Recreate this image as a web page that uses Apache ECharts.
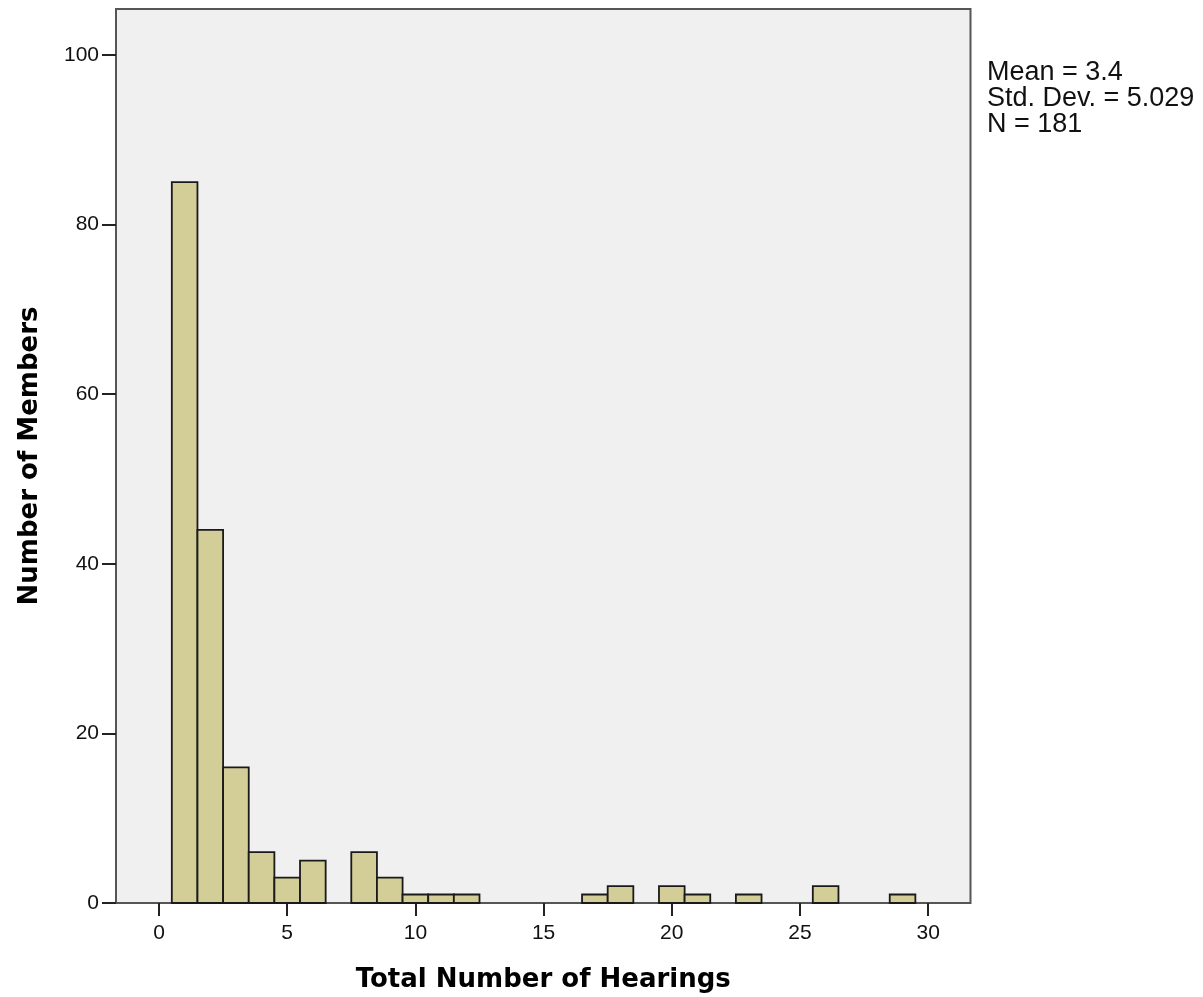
<!DOCTYPE html>
<html>
<head>
<meta charset="utf-8">
<script src="https://cdn.jsdelivr.net/npm/echarts@6/dist/echarts.min.js"></script>
<style>
html,body{margin:0;padding:0;background:#fff;}
#chart{width:1203px;height:997px;}
</style>
</head>
<body>
<div id="chart"></div>
<script>
// ---- data ----
const binCenters = [1,2,3,4,5,6,7,8,9,10,11,12,13,14,15,16,17,18,19,20,21,22,23,24,25,26,27,28,29];
const counts     = [85,44,16,6,3,5,0,6,3,1,1,1,0,0,0,0,1,2,0,2,1,0,1,0,0,2,0,0,1];
const binWidth = 1;
const xTicks = [0,5,10,15,20,25,30];
const yTicks = [0,20,40,60,80,100];
const statLines = ['Mean = 3.4', 'Std. Dev. = 5.029', 'N = 181'];
const xTitle = 'Total Number of Hearings';
const yTitle = 'Number of Members';

const barData = binCenters.map((c, i) => [c, counts[i]]).filter(d => d[1] > 0);

const chart = echarts.init(document.getElementById('chart'), null, {renderer: 'canvas'});

const labelFont = {fontFamily: 'Liberation Sans, Arial, sans-serif', fontSize: 21, color: '#111'};
const titleFont = {fontFamily: 'DejaVu Sans, sans-serif', fontWeight: 'bold', fontSize: 26, color: '#000'};

const option = {
  animation: false,
  backgroundColor: '#ffffff',
  grid: [
    {left: 116, top: 9, width: 854.5, height: 894, show: true, outerBoundsMode: 'none', containLabel: false,
     backgroundColor: '#f0f0f0', borderColor: '#555', borderWidth: 2},
    {left: 159, top: 55, width: 769.2, height: 848, show: false, outerBoundsMode: 'none', containLabel: false}
  ],
  xAxis: [
    {gridIndex: 0, type: 'value', min: -1.677, max: 31.65,
     axisLine: {show: false, onZero: false}, axisTick: {show: false}, axisLabel: {show: false}, splitLine: {show: false},
     name: xTitle, nameLocation: 'middle', nameGap: 64, nameMoveOverlap: false,
     nameTextStyle: titleFont},
    {gridIndex: 1, type: 'value', min: xTicks[0], max: xTicks[xTicks.length - 1], interval: 5,
     axisLine: {show: false, onZero: false},
     axisTick: {show: true, length: 13, lineStyle: {color: '#222', width: 2}},
     axisLabel: Object.assign({margin: 20}, labelFont),
     splitLine: {show: false}}
  ],
  yAxis: [
    {gridIndex: 0, type: 'value', min: 0, max: 105.4,
     axisLine: {show: false, onZero: false}, axisTick: {show: false}, axisLabel: {show: false}, splitLine: {show: false},
     name: yTitle, nameLocation: 'middle', nameGap: 73, nameMoveOverlap: false,
     nameTextStyle: titleFont},
    {gridIndex: 1, type: 'value', min: yTicks[0], max: yTicks[yTicks.length - 1], interval: 20,
     offset: 43,
     axisLine: {show: false, onZero: false},
     axisTick: {show: true, length: 14, lineStyle: {color: '#222', width: 2}},
     axisLabel: Object.assign({margin: 17}, labelFont),
     splitLine: {show: false}}
  ],
  series: [{
    type: 'custom',
    xAxisIndex: 0, yAxisIndex: 0,
    data: barData,
    renderItem: function (params, api) {
      const x = api.value(0), y = api.value(1);
      const p0 = api.coord([x - binWidth / 2, y]);
      const p1 = api.coord([x + binWidth / 2, 0]);
      return {
        type: 'rect',
        shape: {x: p0[0], y: p0[1], width: p1[0] - p0[0], height: p1[1] - p0[1]},
        style: {fill: '#d3ce97', stroke: '#1a1a1a', lineWidth: 1.8}
      };
    }
  }],
  graphic: statLines.map((t, i) => ({
    type: 'text', left: 987, top: 59 + i * 26,
    style: {text: t, fontFamily: 'Liberation Sans, Arial, sans-serif', fontSize: 27, fill: '#111'}
  }))
};
chart.setOption(option);
</script>
</body>
</html>
